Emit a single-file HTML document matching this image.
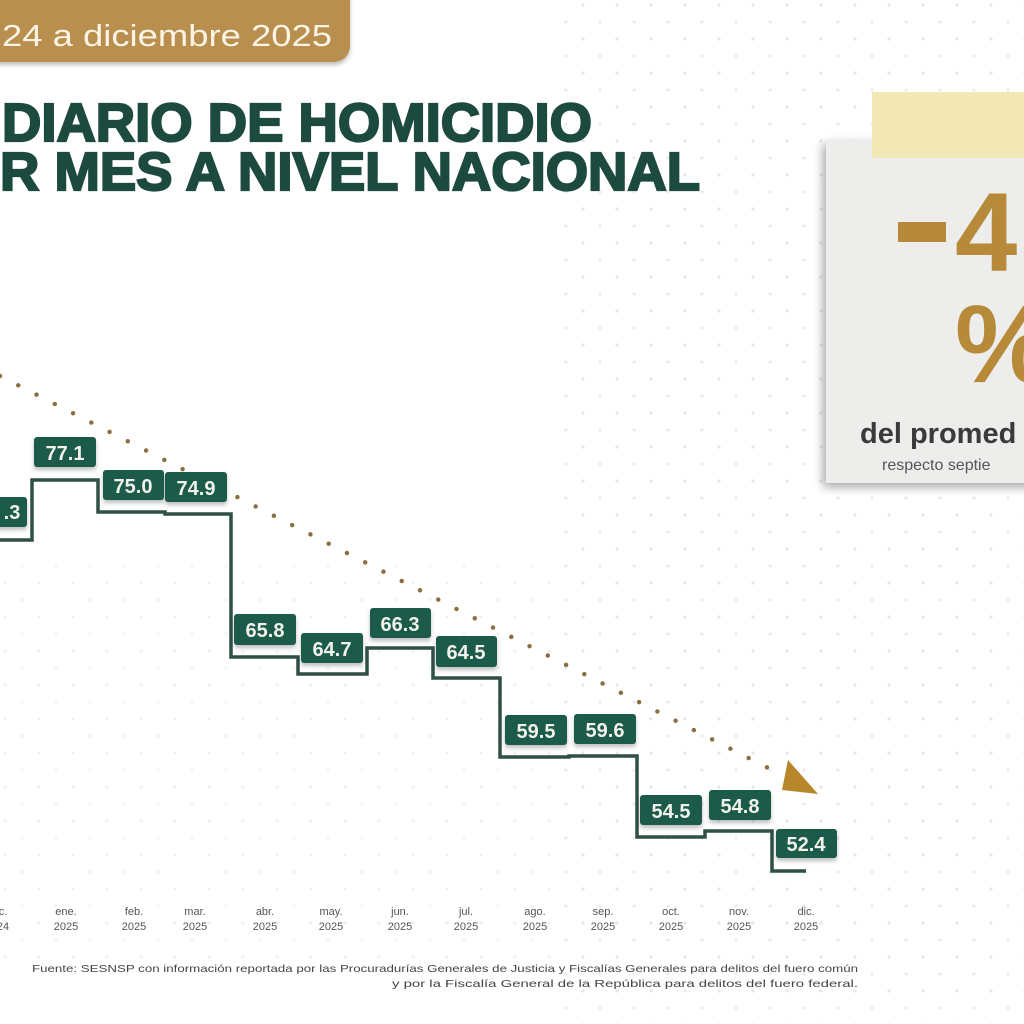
<!DOCTYPE html>
<html><head><meta charset="utf-8"><style>
html,body{margin:0;padding:0;width:1024px;height:1024px;overflow:hidden;background:#fff}
svg{display:block}
</style></head><body>
<svg width="1024" height="1024" viewBox="0 0 1024 1024" xmlns="http://www.w3.org/2000/svg" font-family="Liberation Sans, sans-serif">
<defs>
<pattern id="dots" width="34" height="34" patternUnits="userSpaceOnUse">
<circle cx="5" cy="5" r="1.6" fill="#e6e6e6"/><circle cx="22" cy="22" r="1.6" fill="#ececec"/>
</pattern>
<filter id="sh" x="-20%" y="-20%" width="140%" height="140%"><feDropShadow dx="-3" dy="4" stdDeviation="5" flood-color="#000" flood-opacity="0.35"/></filter>
<filter id="sh2"><feDropShadow dx="0" dy="3" stdDeviation="2" flood-color="#000" flood-opacity="0.25"/></filter>
</defs>
<rect width="1024" height="1024" fill="#fff"/>
<rect x="560" y="0" width="464" height="1024" fill="url(#dots)"/>
<rect x="0" y="560" width="560" height="400" fill="url(#dots)" opacity="0.6"/>

<!-- header pill -->
<rect x="-30" y="-30" width="380" height="92" rx="16" fill="#b88f4f" filter="url(#sh2)"/>
<text x="2" y="46" font-size="31" fill="#fbf3e4" textLength="330" lengthAdjust="spacingAndGlyphs">24 a diciembre 2025</text>

<!-- title -->
<g fill="#1d4a3e" stroke="#1d4a3e" stroke-width="2.2" font-size="54" font-weight="bold">
<text x="2" y="141" textLength="590" lengthAdjust="spacingAndGlyphs">DIARIO DE HOMICIDIO</text>
<text x="0" y="190" textLength="700" lengthAdjust="spacingAndGlyphs">R MES A NIVEL NACIONAL</text>
</g>

<!-- card -->
<g filter="url(#sh)"><rect x="826" y="140" width="220" height="343" fill="#ededeb"/></g>
<rect x="872" y="92" width="160" height="66" fill="#f2e8b2" opacity="0.95"/>
<rect x="898" y="222" width="48" height="20" fill="#b78a3a"/>
<text x="955" y="271" font-size="112" font-weight="bold" fill="#b78a3a">4</text>
<text x="955" y="382" font-size="110" font-weight="bold" fill="#b78a3a">%</text>
<text x="860" y="443" font-size="29" font-weight="bold" fill="#3a3a3a">del promed</text>
<text x="882" y="470" font-size="16" fill="#555">respecto septie</text>

<!-- trend dotted -->
<line x1="0" y1="376" x2="778" y2="773" stroke="#8a7040" stroke-width="4.5" stroke-linecap="round" stroke-dasharray="0 20.5"/>
<polygon points="788,760 818,794 782,790" fill="#b8862b"/>

<!-- step line -->
<polyline fill="none" stroke="#2f4f47" stroke-width="3.5" points="0,540 32,540 32,480 98,480 98,512 165,512 165,514 231,514 231,657 298,657 298,674 367,674 367,648 433,648 433,678 500,678 500,757 569,757 569,756 637,756 637,837 705,837 705,831 772,831 772,871 806,871"/>

<!-- labels -->
<g fill="#1e5a48" filter="url(#sh2)">
<rect x="-10" y="497" width="37" height="30" rx="3"/>
<rect x="34" y="437" width="62" height="30" rx="3"/>
<rect x="103" y="470" width="61" height="30" rx="3"/>
<rect x="165" y="472" width="62" height="30" rx="3"/>
<rect x="234" y="614" width="62" height="31" rx="3"/>
<rect x="301" y="633" width="62" height="30" rx="3"/>
<rect x="370" y="608" width="61" height="30" rx="3"/>
<rect x="436" y="636" width="61" height="31" rx="3"/>
<rect x="505" y="715" width="62" height="30" rx="3"/>
<rect x="574" y="714" width="62" height="30" rx="3"/>
<rect x="640" y="795" width="62" height="30" rx="3"/>
<rect x="709" y="790" width="62" height="30" rx="3"/>
<rect x="776" y="829" width="61" height="29" rx="3"/>
</g>
<g fill="#f2f2ec" font-size="20" font-weight="bold" text-anchor="middle">
<text x="12" y="519">.3</text>
<text x="65" y="460">77.1</text>
<text x="133" y="493">75.0</text>
<text x="196" y="495">74.9</text>
<text x="265" y="637">65.8</text>
<text x="332" y="656">64.7</text>
<text x="400" y="631">66.3</text>
<text x="466" y="659">64.5</text>
<text x="536" y="738">59.5</text>
<text x="605" y="737">59.6</text>
<text x="671" y="818">54.5</text>
<text x="740" y="813">54.8</text>
<text x="806" y="851">52.4</text>
</g>

<!-- x labels -->
<g fill="#555" font-size="11" text-anchor="middle">
<text x="3" y="915">c.</text><text x="3" y="930">24</text>
<text x="66" y="915">ene.</text><text x="66" y="930">2025</text>
<text x="134" y="915">feb.</text><text x="134" y="930">2025</text>
<text x="195" y="915">mar.</text><text x="195" y="930">2025</text>
<text x="265" y="915">abr.</text><text x="265" y="930">2025</text>
<text x="331" y="915">may.</text><text x="331" y="930">2025</text>
<text x="400" y="915">jun.</text><text x="400" y="930">2025</text>
<text x="466" y="915">jul.</text><text x="466" y="930">2025</text>
<text x="535" y="915">ago.</text><text x="535" y="930">2025</text>
<text x="603" y="915">sep.</text><text x="603" y="930">2025</text>
<text x="671" y="915">oct.</text><text x="671" y="930">2025</text>
<text x="739" y="915">nov.</text><text x="739" y="930">2025</text>
<text x="806" y="915">dic.</text><text x="806" y="930">2025</text>
</g>

<!-- source -->
<g fill="#444" font-size="10.5" text-anchor="end">
<text x="858" y="972" textLength="826" lengthAdjust="spacingAndGlyphs">Fuente: SESNSP con información reportada por las Procuradurías Generales de Justicia y Fiscalías Generales para delitos del fuero común</text>
<text x="858" y="987" textLength="466" lengthAdjust="spacingAndGlyphs">y por la Fiscalía General de la República para delitos del fuero federal.</text>
</g>
</svg>
</body></html>
